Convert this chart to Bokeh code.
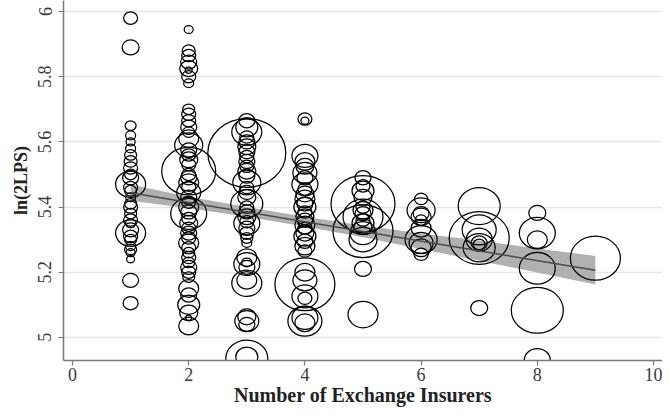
from bokeh.plotting import figure
from bokeh.models import ColumnDataSource, FixedTicker, Range1d
from bokeh.embed import file_html
from bokeh.resources import INLINE

# ---- data ----
x_categories = [1, 2, 3, 4, 5, 6, 7, 8, 9]

y_x1 = [5.98, 5.89, 5.65, 5.62, 5.60, 5.58, 5.56, 5.54, 5.52, 5.50, 5.49, 5.47, 5.46, 5.45, 5.43, 5.41,
        5.40, 5.38, 5.36, 5.35, 5.33, 5.32, 5.31, 5.30, 5.28, 5.27, 5.26, 5.24, 5.175, 5.105]
s_x1 = [14, 17, 11, 10, 9, 10, 12, 13, 14, 12, 16, 30, 14, 12, 10, 12,
        14, 12, 14, 10, 16, 30, 14, 12, 10, 12, 9, 8, 16, 15]

y_x2 = [5.945, 5.88, 5.865, 5.845, 5.825, 5.82, 5.80, 5.78,
        5.70, 5.685, 5.665, 5.645, 5.63, 5.61, 5.59, 5.575, 5.56, 5.545, 5.53, 5.51, 5.50, 5.49,
        5.475, 5.46, 5.445, 5.43, 5.415, 5.40, 5.385, 5.38, 5.365, 5.35, 5.335, 5.32, 5.305, 5.29,
        5.275, 5.26, 5.245, 5.23, 5.215, 5.20, 5.185, 5.15, 5.13, 5.10, 5.075, 5.06, 5.035]
s_x2 = [9, 13, 14, 16, 18, 7, 14, 10,
        12, 14, 14, 16, 12, 20, 28, 16, 14, 18, 14, 54, 14, 16,
        20, 14, 24, 16, 14, 20, 16, 36, 14, 18, 14, 16, 14, 20,
        14, 12, 14, 12, 16, 14, 12, 20, 16, 22, 18, 6, 20]

y_x3 = [5.665, 5.645, 5.63, 5.566, 5.615, 5.60, 5.585, 5.57, 5.555, 5.54, 5.525, 5.51, 5.495,
        5.475, 5.46, 5.445, 5.43, 5.41, 5.40, 5.385, 5.37, 5.355, 5.35, 5.335, 5.32, 5.305, 5.29,
        5.245, 5.225, 5.23, 5.215, 5.175, 5.166, 5.063, 5.05, 5.04, 4.935, 4.94]
s_x3 = [16, 22, 30, 78, 14, 16, 18, 16, 14, 16, 14, 18, 16,
        28, 14, 16, 18, 32, 14, 16, 18, 14, 26, 16, 14, 12, 10,
        20, 26, 10, 16, 20, 30, 18, 24, 16, 42, 22]

y_x4 = [5.67, 5.665, 5.557, 5.54, 5.525, 5.505, 5.49, 5.47, 5.455, 5.44, 5.425, 5.41, 5.40,
        5.385, 5.37, 5.36, 5.345, 5.335, 5.32, 5.31, 5.295, 5.28, 5.265, 5.20, 5.175, 5.163,
        5.126, 5.12, 5.06, 5.05, 5.045]
s_x4 = [14, 8, 26, 20, 18, 24, 16, 26, 14, 18, 20, 16, 22,
        14, 18, 16, 20, 14, 18, 22, 16, 20, 14, 20, 24, 60,
        26, 14, 26, 34, 20]

y_x5 = [5.49, 5.465, 5.45, 5.43, 5.41, 5.40, 5.39, 5.38, 5.37, 5.36, 5.35, 5.34, 5.326, 5.32,
        5.30, 5.21, 5.07]
s_x5 = [16, 14, 22, 18, 64, 14, 20, 16, 40, 14, 22, 18, 60, 26, 28, 17, 30]

y_x6 = [5.425, 5.39, 5.38, 5.37, 5.36, 5.335, 5.30, 5.29, 5.275, 5.255]
s_x6 = [13, 28, 16, 20, 12, 20, 32, 24, 20, 14]

y_x7 = [5.403, 5.33, 5.305, 5.30, 5.29, 5.285, 5.275, 5.09]
s_x7 = [42, 34, 60, 26, 16, 12, 32, 17]

y_x8 = [5.382, 5.32, 5.30, 5.212, 5.083, 4.93]
s_x8 = [17, 36, 20, 36, 52, 26]

y_x9 = [5.243]
s_x9 = [50]

fit_x = [1, 9]
fit_y = [5.444, 5.206]
band_x = [1, 2, 3, 4, 5, 6, 7, 8, 9]
band_hi = [5.469, 5.432, 5.400, 5.370, 5.343, 5.319, 5.297, 5.273, 5.250]
band_lo = [5.419, 5.396, 5.370, 5.340, 5.307, 5.271, 5.235, 5.199, 5.162]

x_ticks = [0, 2, 4, 6, 8, 10]
y_ticks = [5, 5.2, 5.4, 5.6, 5.8, 6]
y_tick_labels = ["5", "5.2", "5.4", "5.6", "5.8", "6"]

# ---- assemble point table ----
ys_all = [y_x1, y_x2, y_x3, y_x4, y_x5, y_x6, y_x7, y_x8, y_x9]
ss_all = [s_x1, s_x2, s_x3, s_x4, s_x5, s_x6, s_x7, s_x8, s_x9]
px, py, pw, ph = [], [], [], []
for xc, ys, ss in zip(x_categories, ys_all, ss_all):
    for yv, sv in zip(ys, ss):
        px.append(xc)
        py.append(yv)
        pw.append(sv)
        ph.append(sv * 0.88)
src = ColumnDataSource(dict(x=px, y=py, w=pw, h=ph))

FONT = "Liberation Serif"
X0, X1 = -0.155, 10.155
Y0, Y1 = 4.929, 6.034

p = figure(width=662, height=411, output_backend="svg", toolbar_location=None,
           x_range=Range1d(X0, X1), y_range=Range1d(Y0, Y1),
           min_border_left=63, min_border_right=0, min_border_top=0, min_border_bottom=51)
p.outline_line_color = None
p.background_fill_color = "white"

# band, circles, fit line
p.varea(x=band_x, y1=band_lo, y2=band_hi, fill_color="#b0b0b0", fill_alpha=1.0)
p.ellipse(x="x", y="y", width="w", height="h", source=src,
          width_units="screen", height_units="screen",
          fill_color=None, line_color="black", line_width=1.25)
p.line(x=fit_x, y=fit_y, line_color="#4a4a4a", line_width=1.5)

# axes
p.xaxis.ticker = FixedTicker(ticks=x_ticks)
p.yaxis.ticker = FixedTicker(ticks=y_ticks)
p.yaxis.major_label_overrides = {t: l for t, l in zip(y_ticks, y_tick_labels)}
p.yaxis.major_label_orientation = "vertical"

for ax in (p.xaxis, p.yaxis):
    ax.axis_line_color = "#7a7a7a"
    ax.axis_line_width = 1.5
    ax.major_tick_line_color = "#7a7a7a"
    ax.major_tick_line_width = 1.2
    ax.major_tick_out = 5
    ax.major_tick_in = 0
    ax.minor_tick_line_color = None
    ax.major_label_text_font = FONT
    ax.major_label_text_font_size = "18px"
    ax.major_label_text_color = "#3a3a3a"
    ax.axis_label_text_font = FONT
    ax.axis_label_text_font_style = "bold"
    ax.axis_label_text_color = "#222222"

p.xaxis.axis_label_text_font_size = "20px"
p.yaxis.axis_label_text_font_size = "18px"
p.xaxis.axis_label = "Number of Exchange Insurers"
p.yaxis.axis_label = "ln(2LPS)"
p.xaxis.major_label_standoff = 2
p.xaxis.axis_label_standoff = 0
p.yaxis.major_label_standoff = 7
p.yaxis.axis_label_standoff = 5

p.xgrid.grid_line_color = None
p.ygrid.grid_line_color = "#e6e6e6"
p.ygrid.grid_line_width = 1.5

open("out.html", "w").write(file_html(p, INLINE))
